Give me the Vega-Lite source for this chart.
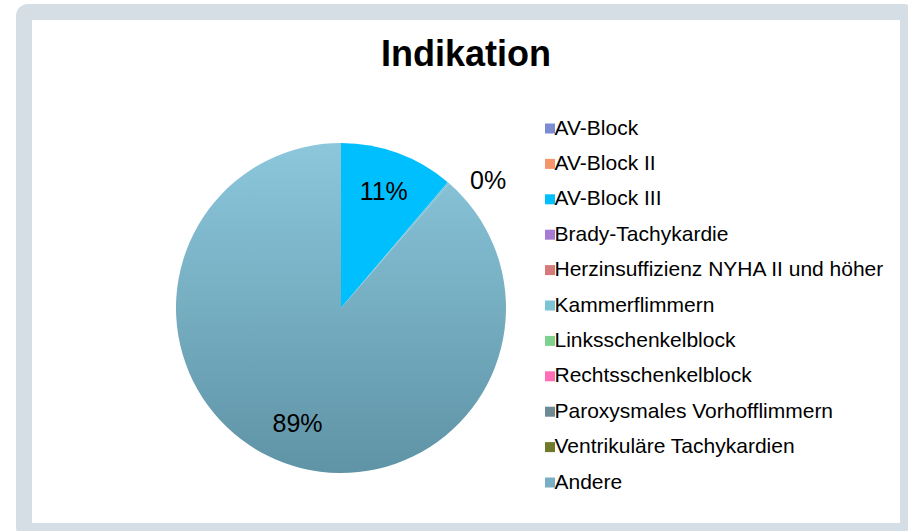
{
  "$schema": "https://vega.github.io/schema/vega-lite/v6.json",
  "width": 884,
  "height": 519,
  "autosize": {"type": "none"},
  "padding": {"left": 24, "top": 12, "right": 0, "bottom": 0},
  "background": "white",
  "config": {
    "view": {"stroke": null},
    "font": "Liberation Sans"
  },
  "title": {
    "text": "Indikation",
    "fontSize": 36,
    "font": "Liberation Sans",
    "fontWeight": "bold",
    "color": "black",
    "anchor": "middle",
    "frame": "group",
    "offset": -98,
    "baseline": "alphabetic"
  },
  "data": {
    "values": [
      {"idx": 1, "cat": "AV-Block", "share": 0},
      {"idx": 2, "cat": "AV-Block II", "share": 0},
      {"idx": 3, "cat": "AV-Block III", "share": 0.112},
      {"idx": 4, "cat": "Brady-Tachykardie", "share": 0},
      {"idx": 5, "cat": "Herzinsuffizienz NYHA II und höher", "share": 0},
      {"idx": 6, "cat": "Kammerflimmern", "share": 0.002},
      {"idx": 7, "cat": "Linksschenkelblock", "share": 0},
      {"idx": 8, "cat": "Rechtsschenkelblock", "share": 0},
      {"idx": 9, "cat": "Paroxysmales Vorhofflimmern", "share": 0},
      {"idx": 10, "cat": "Ventrikuläre Tachykardien", "share": 0},
      {"idx": 11, "cat": "Andere", "share": 0.886}
    ]
  },
  "layer": [
    {
      "data": {"values": [{"frame": 1}]},
      "mark": {"type": "rect", "fill": "white", "stroke": "#D5DEE5", "strokeWidth": 16, "cornerRadius": 4},
      "encoding": {}
    },
    {
      "mark": {"type": "arc", "radius": 165, "x": 317, "y": 296, "strokeWidth": 0},
      "encoding": {
        "theta": {"field": "share", "type": "quantitative", "stack": true},
        "order": {"field": "idx", "type": "quantitative"},
        "color": {
          "condition": {
            "test": "datum.cat === 'Andere'",
            "value": {
              "gradient": "linear",
              "x1": 0, "y1": 0, "x2": 0, "y2": 1,
              "stops": [
                {"offset": 0, "color": "#8CC7DC"},
                {"offset": 1, "color": "#5F93A6"}
              ]
            }
          },
          "field": "cat",
          "type": "nominal",
          "scale": {
            "domain": ["AV-Block", "AV-Block II", "AV-Block III", "Brady-Tachykardie", "Herzinsuffizienz NYHA II und höher", "Kammerflimmern", "Linksschenkelblock", "Rechtsschenkelblock", "Paroxysmales Vorhofflimmern", "Ventrikuläre Tachykardien", "Andere"],
            "range": ["#7B8BD4", "#F5956B", "#00BFFF", "#A57BD4", "#D47A7A", "#7CC4D4", "#7ED18E", "#FF6EB4", "#6E8A94", "#6E7A2A", "#78AFC4"]
          },
          "legend": {
            "title": null,
            "orient": "none",
            "legendX": 515.5,
            "legendY": 106,
            "padding": 0,
            "symbolType": "square",
            "symbolSize": 100,
            "symbolStrokeWidth": 0,
            "labelFontSize": 21,
            "labelFont": "Liberation Sans",
            "labelColor": "black",
            "labelLimit": 500,
            "labelOffset": -6,
            "rowPadding": 13.4
          }
        }
      }
    },
    {
      "mark": {"type": "text", "radius": 124, "x": 317, "y": 296, "fontSize": 25, "font": "Liberation Sans", "color": "black", "align": "center", "baseline": "middle"},
      "encoding": {
        "theta": {"field": "share", "type": "quantitative", "stack": true},
        "order": {"field": "idx", "type": "quantitative"},
        "detail": {"field": "cat", "type": "nominal"},
        "text": {"field": "share", "type": "quantitative", "format": ".0%"},
        "opacity": {"condition": {"test": "datum.share >= 0.01", "value": 1}, "value": 0}
      }
    },
    {
      "mark": {"type": "text", "radius": 175, "x": 317, "y": 296, "dx": 15, "dy": 6, "fontSize": 25, "font": "Liberation Sans", "color": "black", "align": "left", "baseline": "middle"},
      "encoding": {
        "theta": {"field": "share", "type": "quantitative", "stack": true},
        "order": {"field": "idx", "type": "quantitative"},
        "detail": {"field": "cat", "type": "nominal"},
        "text": {"field": "share", "type": "quantitative", "format": ".0%"},
        "opacity": {"condition": {"test": "datum.share > 0 && datum.share < 0.01", "value": 1}, "value": 0}
      }
    }
  ]
}
